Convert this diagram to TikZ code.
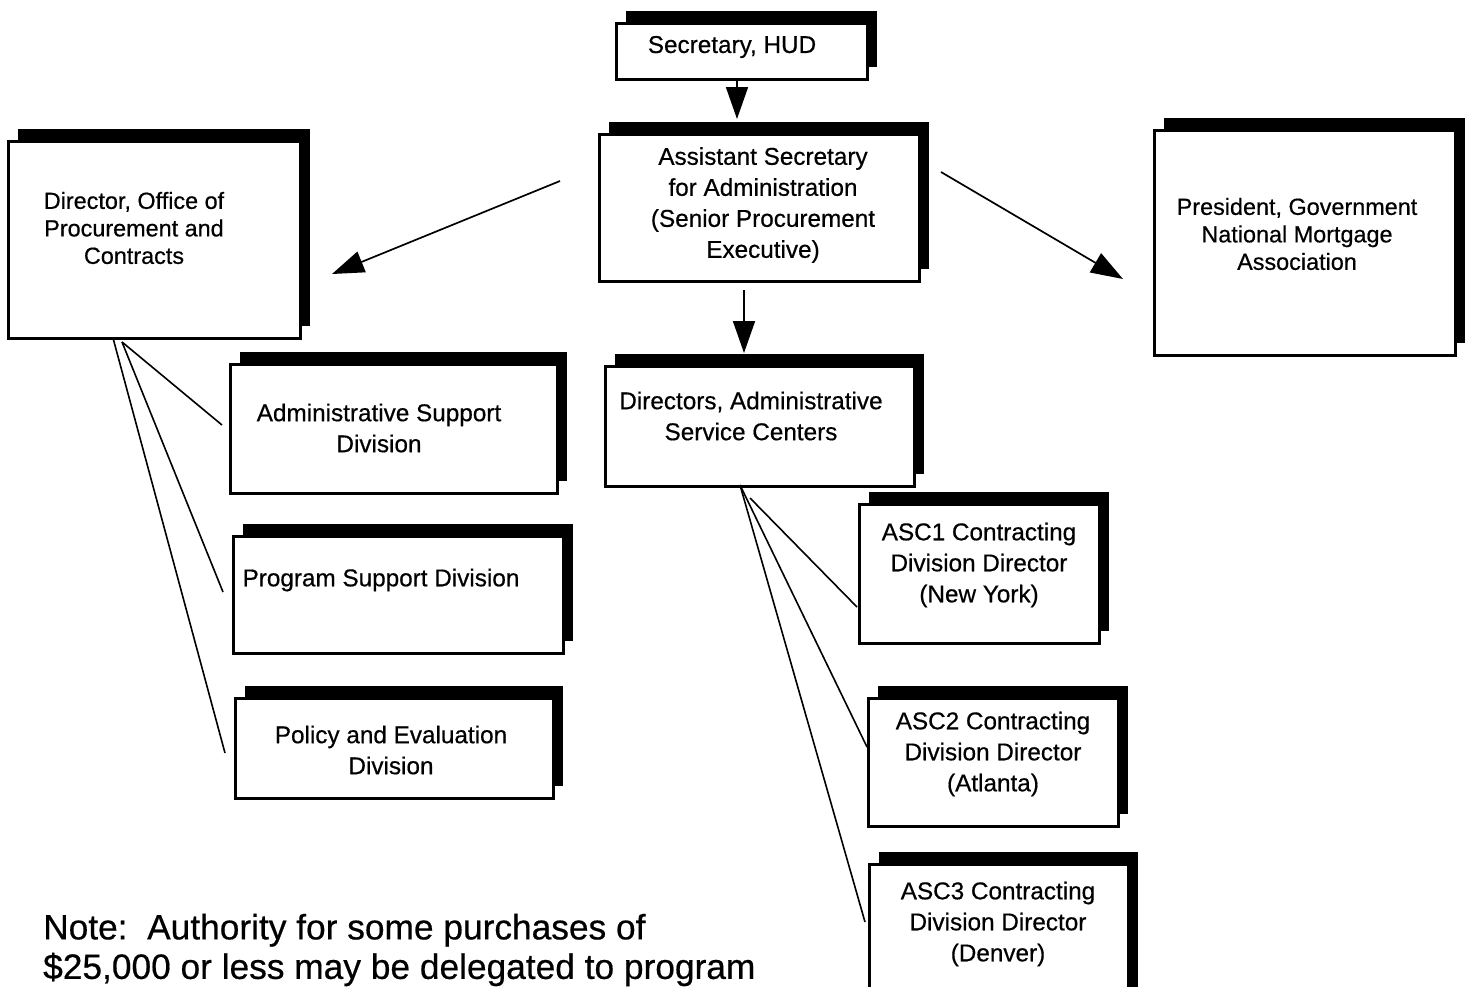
\documentclass[tikz,border=0pt]{standalone}
\usepackage{fontspec}
\setmainfont{Liberation Sans}[FakeBold=0.5]
\usetikzlibrary{arrows.meta,shadows}
\tikzset{
  orgbox/.style={draw, line width=2.5pt, fill=white, inner sep=0pt, anchor=north west,
    drop shadow={shadow xshift=10pt, shadow yshift=12pt, fill=black, opacity=1}},
  lbl/.style={align=center, inner sep=0pt, font=\fontsize{24.3}{31}\selectfont},
  lbls/.style={align=center, inner sep=0pt, font=\fontsize{23.4}{27.5}\selectfont},
  arr/.style={line width=1.7pt, -{Triangle[length=32pt,width=22pt]}},
  fan/.style={line width=1.6pt}
}
\begin{document}
\begin{tikzpicture}[x=1pt,y=-1pt]
\useasboundingbox (0,0) rectangle (1470,986);
\clip (0,0) rectangle (1470,986);
\fill[white] (0,0) rectangle (1470,986);
% boxes
\node[orgbox, minimum width=251pt, minimum height=56pt] (sec) at (615,22) {};
\node[orgbox, minimum width=320pt, minimum height=147pt] (asst) at (598,133) {};
\node[orgbox, minimum width=292pt, minimum height=197pt] (dir) at (7,140) {};
\node[orgbox, minimum width=301pt, minimum height=225pt] (pres) at (1153,129) {};
\node[orgbox, minimum width=327pt, minimum height=129pt] (adm) at (229,363) {};
\node[orgbox, minimum width=330pt, minimum height=117pt] (prog) at (232,535) {};
\node[orgbox, minimum width=318pt, minimum height=100pt] (pol) at (234,697) {};
\node[orgbox, minimum width=309pt, minimum height=120pt] (asc) at (604,365) {};
\node[orgbox, minimum width=240pt, minimum height=139pt] (asc1) at (858,503) {};
\node[orgbox, minimum width=250pt, minimum height=128pt] (asc2) at (867,697) {};
\node[orgbox, minimum width=259pt, minimum height=150pt] (asc3) at (868,863) {};
% texts
\node[lbl] (sect) at (732,47) {Secretary, HUD};
\node[lbl] (asstt) at (763,205) {Assistant Secretary\\for Administration\\(Senior Procurement\\Executive)};
\node[lbls] (dirt) at (134,228) {Director, Office of\\Procurement and\\Contracts};
\node[lbls] (prest) at (1297,234) {President, Government\\National Mortgage\\Association};
\node[lbl] (admt) at (379,428) {Administrative Support\\Division};
\node[lbl] (progt) at (381,580) {Program Support Division};
\node[lbl] (polt) at (391,750) {Policy and Evaluation\\Division};
\node[lbl] (asct) at (751,416) {Directors, Administrative\\Service Centers};
\node[lbl] (asc1t) at (979,565) {ASC1 Contracting\\Division Director\\(New York)};
\node[lbl] (asc2t) at (993,754) {ASC2 Contracting\\Division Director\\(Atlanta)};
\node[lbl] (asc3t) at (998,924) {ASC3 Contracting\\Division Director\\(Denver)};
\node[align=left, anchor=west, inner sep=0pt, font=\fontsize{35.3}{39.5}\selectfont] (note) at (43,950)
  {Note:\ \ Authority for some purchases of\\\$25,000 or less may be delegated to program};
% connector end points
\coordinate (a1s) at (737,80);  \coordinate (a1e) at (737,119);
\coordinate (a2s) at (744,290); \coordinate (a2e) at (744,353);
\coordinate (a3s) at (560,181); \coordinate (a3e) at (332,274);
\coordinate (a4s) at (941,172); \coordinate (a4e) at (1123,279);
\coordinate (dA) at (122,342); \coordinate (dB) at (113,338);
\coordinate (d1) at (222,425); \coordinate (d2) at (223,592); \coordinate (d3) at (225,753);
\coordinate (sA) at (750,498); \coordinate (sB) at (740,485);
\coordinate (s1) at (857,607); \coordinate (s2) at (867,747); \coordinate (s3) at (865,922);
% arrows
\draw[arr] (a1s) -- (a1e);
\draw[arr] (a2s) -- (a2e);
\draw[arr] (a3s) -- (a3e);
\draw[arr] (a4s) -- (a4e);
% fan lines
\draw[fan] (dA) -- (d1);
\draw[fan] (dA) -- (d2);
\draw[fan] (dB) -- (d3);
\draw[fan] (sA) -- (s1);
\draw[fan] (sB) -- (s2);
\draw[fan] (sB) -- (s3);
\end{tikzpicture}
\end{document}
